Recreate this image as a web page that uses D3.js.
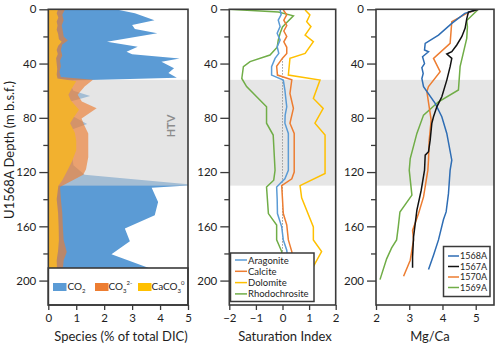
<!DOCTYPE html>
<html><head><meta charset="utf-8">
<script src="https://cdn.jsdelivr.net/npm/d3@7"></script>
<style>body{margin:0;background:#fff}svg{display:block;font-family:Lato,"Open Sans",sans-serif}</style>
</head><body><svg id="c" width="500" height="348"></svg>
<script>
// ---------- Panel 1: DIC species (% of total DIC) ----------
const co2Depth = [0,3,8,11.6,14.5,17.7,24,27.6,31.3,33.2,36.2,38.6,43.5,47,50.5,52.5,56,60,64,68,72,78,84.5,89,100,115,122,129.5,131.5,142,151.8,161.6,171,180.6,191,196];
const co2Vals  = [2.4,3.1,3.8,3.0,3.1,3.9,2.1,3.2,2.8,3.0,4.7,4.05,4.5,4.3,4.6,0.9,0.8,0.9,1.5,0.8,0.7,0.8,1.39,0.8,0.8,0.9,1.3,5.3,3.7,3.93,3.81,2.74,2.92,2.26,3.65,3.9];
const co3Depth = [0,4,8,12,16,20,23,26,30,34,38,42,46,50,52,57,63,68,73,80.5,86,91.5,100,109,118,122,131,140,150,160,170,179,185,196];
const co3Vals  = [0.6,0.5,0.55,0.48,0.52,0.55,0.7,0.5,0.45,0.5,0.42,0.45,0.4,0.45,1.6,1.3,1.05,1.2,1.73,1.19,1.3,1.43,1.43,1.43,1.35,1.25,0.42,0.45,0.5,0.52,0.55,0.66,0.55,0.5];
const cacoDepth = [0,3,6,9,12,15,18,22,24,27,30,33,36,40,44,48,51,53,58,63,67,74,80,84,91,97,104,112,119,126,130,140,150,160,170,178,185,196];
const cacoVals  = [0.35,0.3,0.36,0.3,0.33,0.3,0.35,0.38,0.48,0.35,0.3,0.34,0.28,0.3,0.32,0.3,0.33,1.0,0.85,0.72,0.8,1.1,0.9,0.78,0.95,1.0,1.0,0.85,0.68,0.5,0.36,0.3,0.35,0.37,0.38,0.35,0.3,0.32];

// ---------- Panel 2: Saturation index ----------
const aragDepth = [0.5,4,7.9,12.8,17.7,22.7,27.6,32.5,36.2,42.3,48.5,52.2,59.5,65,71.9,78,84,91.5,105,118.7,125,131,140,150.6,160.4,170,177.6,185,192];
const aragVals  = [-0.09,-0.05,-0.16,-0.09,-0.2,-0.09,-0.2,-0.14,-0.28,-0.41,-0.41,0.03,0.09,0.12,0.16,0.1,0.09,0.22,0.22,0.22,0.09,-0.22,-0.2,-0.19,-0.03,0.03,0.16,0.2,0.22];
const calcDepth = [0.5,4,8,12,16,20,24,28,32.5,36,42,48.5,52,62,73,84,91.5,105,120,125,130,140,150.6,159,170,178.6,185,192];
const calcVals  = [0.03,0.16,0.05,0.16,0.05,0.16,0.05,0.16,0.16,0.0,-0.22,-0.19,0.35,0.28,0.41,0.28,0.44,0.44,0.44,0.35,-0.03,0.0,0.03,0.16,0.22,0.35,0.38,0.4];
const dolDepth  = [0.5,4.2,9.1,12.8,19,23.9,32.5,36.2,48.5,52.2,65.7,73.1,84,92.7,121,130,139,160.4,170,178.6,187.5,192];
const dolVals   = [0.85,1.03,0.91,1.07,0.85,1.16,0.85,0.28,0.22,1.41,1.16,1.53,1.22,1.6,1.6,0.66,0.72,1.16,1.16,1.47,1.22,1.1];
const rhoDepth  = [0,2,4.8,9.8,13,17.7,22.7,28,33.7,38.6,42.3,51,57,71.9,84,92.7,118.7,126,131,150.6,159,170,178.6,192];
const rhoVals   = [-2.0,-0.16,0.41,0.16,0.0,-0.09,-0.16,-0.2,-0.47,-1.22,-1.47,-1.53,-1.35,-0.6,-0.6,-0.35,-0.28,-0.33,-0.6,-0.53,-0.22,-0.22,-0.03,0.0];

// ---------- Panel 3: Mg/Ca ----------
const d1568 = [0,3,10.4,19,25.1,30,31.3,35,40,43,47.3,51,57,69.4,79.2,91.5,111.2,118.6,135.9,149.4,155,170,181.3,191.9];
const v1568 = [5.08,4.67,4.28,3.88,3.48,3.46,3.58,3.4,3.46,3.38,3.42,3.38,3.43,3.78,3.98,4.13,4.28,4.23,4.18,4.11,4.03,3.88,3.73,3.58];
const d1567 = [0,2,7,14,20.2,26.3,31.3,33,36.2,42.3,52.2,64.5,71.9,79.2,84,96.5,105,107.5,118.6,133.4,148,158,167.8,182.5,190.5];
const v1567 = [5.08,4.78,4.73,4.68,4.58,4.43,4.28,4.13,4.28,4.23,4.13,3.98,3.83,3.73,3.68,3.63,3.58,3.48,3.46,3.36,3.23,3.18,3.13,3.10,3.10];
const d1570 = [0,3,9.1,25.1,36.2,46,57,60.7,81.7,96.5,111,118.6,138.3,150.6,163,170,185,196.8];
const v1570 = [5.08,4.73,4.28,4.23,3.73,3.93,3.58,3.53,3.66,3.6,3.58,3.56,3.43,3.28,3.10,3.13,3.03,2.83];
const d1569 = [0,8.2,12.8,21.4,42.3,59.5,68.2,78,91.5,110,118.6,137,149.4,160.4,170,175.9,184,199.3];
const v1569 = [5.08,4.73,4.75,4.73,4.53,4.48,3.88,3.43,3.23,3.03,3.0,3.08,2.72,2.67,2.62,2.47,2.32,2.12];

// ---------- Axis / labels ----------
const depthTicks = [0,20,40,60,80,100,120,140,160,180,200];
const speciesTicks = [0,1,2,3,4,5];
const siTicks = [-2,-1,0,1,2];
const mgTicks = [2,3,4,5];
const htv = [52,130];
const satNames = ["Aragonite","Calcite","Dolomite","Rhodochrosite"];
const siteNames = ["1568A","1567A","1570A","1569A"];

const zip = (ds, vs) => ds.map((d,i)=>({d, v: vs[i]}));
const svg = d3.select("#c");
const yTop = 9.3, yBot = 305;
const y = d3.scaleLinear([0,218],[yTop,yBot]);
const xL = d3.scaleLinear([0,5],[48.3,188]);
const xM = d3.scaleLinear([-2,2],[229.3,335.7]);
const xR = d3.scaleLinear([2,5.55],[376,494]);
const frameCol = "#3a3a3a";
const txtCol = "#1e1e1e";

function clip(id, x0, x1){
  svg.append("clipPath").attr("id",id).append("rect")
    .attr("x",x0).attr("y",yTop).attr("width",x1-x0).attr("height",yBot-yTop);
}
function axes(x, ticks){
  const r = x.range();
  const ya = svg.append("g").attr("transform",`translate(${r[0]},0)`)
    .call(d3.axisLeft(y).tickValues(depthTicks).tickSize(9).tickPadding(3)
      .tickFormat(d => d%40===0 ? d : ""));
  ya.select(".domain").remove();
  ya.selectAll(".tick").filter(d=>d%40!==0).select("line").attr("x2",-5);
  ya.selectAll("line").attr("stroke",frameCol).attr("stroke-width",1.3);
  ya.selectAll("text").attr("font-size",11.5).attr("fill",txtCol).attr("font-family","Lato");
  const xa = svg.append("g").attr("transform",`translate(0,${yBot})`)
    .call(d3.axisBottom(x).tickValues(ticks).tickSize(5).tickPadding(4).tickFormat(d3.format("d")));
  xa.select(".domain").remove();
  xa.selectAll("line").attr("stroke",frameCol).attr("stroke-width",1.3);
  xa.selectAll("text").attr("font-size",11.5).attr("fill",txtCol).attr("font-family","Lato");
  svg.append("rect").attr("x",r[0]).attr("y",yTop).attr("width",r[1]-r[0]).attr("height",yBot-yTop)
    .attr("fill","none").attr("stroke",frameCol).attr("stroke-width",1.6);
}

// ===== Panel 1 =====
clip("cl1", xL(0), xL(5));
const g1 = svg.append("g").attr("clip-path","url(#cl1)");
const area = d3.area().y(d=>y(d.d)).x0(xL(0)).x1(d=>xL(d.v));
g1.append("path").datum(zip(co2Depth,co2Vals)).attr("d",area).attr("fill","#5B9BD5");
g1.append("rect").attr("x",xL(0)).attr("width",xL(5)-xL(0)).attr("y",y(htv[0])).attr("height",y(htv[1])-y(htv[0]))
  .attr("fill","#d4d4d4").attr("fill-opacity",0.6);
g1.append("path").datum(zip(co3Depth,co3Vals)).attr("d",area).attr("fill","#ED7D31").attr("fill-opacity",0.65);
g1.append("path").datum(zip(cacoDepth,cacoVals)).attr("d",area).attr("fill","#F2B12F");
svg.append("text").attr("transform",`translate(${175},${126}) rotate(-90)`).attr("text-anchor","middle")
  .attr("font-size",11).attr("font-weight","bold").attr("fill","#8c8c8c").text("HTV");
// legend
svg.append("rect").attr("x",xL(0)).attr("y",268).attr("width",xL(5)-xL(0)).attr("height",yBot-268)
  .attr("fill","#fff").attr("stroke",frameCol).attr("stroke-width",1.6);
const leg1 = [{c:"#5B9BD5",x:53},{c:"#ED7D31",x:95},{c:"#FFC000",x:138}];
leg1.forEach(l=>svg.append("rect").attr("x",l.x).attr("y",283).attr("width",13.5).attr("height",8).attr("fill",l.c));
function chem(x, parts){
  const t = svg.append("text").attr("x",x).attr("y",290).attr("font-size",10).attr("fill",txtCol);
  parts.forEach(p=>{
    const s = t.append("tspan").text(p.t);
    if(p.sub){ s.attr("font-size",6).attr("dy",3); }
    if(p.sup){ s.attr("font-size",6).attr("dy",p.dy); }
  });
}
chem(67.5,[{t:"CO"},{t:"2",sub:true}]);
chem(108.5,[{t:"CO"},{t:"3",sub:true},{t:"2-",sup:true,dy:-8}]);
chem(151.5,[{t:"CaCO"},{t:"3",sub:true},{t:"0",sup:true,dy:-8}]);
axes(xL, speciesTicks);

// ===== Panel 2 =====
svg.append("rect").attr("x",xM(-2)).attr("width",xM(2)-xM(-2)).attr("y",y(htv[0])).attr("height",y(htv[1])-y(htv[0])).attr("fill","#e6e6e6");
clip("cl2", xM(-2), xM(2));
const g2 = svg.append("g").attr("clip-path","url(#cl2)");
g2.append("line").attr("x1",xM(0)).attr("x2",xM(0)).attr("y1",y(36)).attr("y2",y(200))
  .attr("stroke","#9a9a9a").attr("stroke-width",1).attr("stroke-dasharray","1.5,1.5");
const lineM = d3.line().x(d=>xM(d.v)).y(d=>y(d.d));
const satSeries = [[rhoDepth,rhoVals,"#70AD47"],[dolDepth,dolVals,"#FFC000"],[aragDepth,aragVals,"#5B9BD5"],[calcDepth,calcVals,"#ED7D31"]];
satSeries.forEach(s=>g2.append("path").datum(zip(s[0],s[1])).attr("d",lineM).attr("fill","none").attr("stroke",s[2]).attr("stroke-width",1.5));
const satCols = {"Aragonite":"#5B9BD5","Calcite":"#ED7D31","Dolomite":"#FFC000","Rhodochrosite":"#70AD47"};
svg.append("rect").attr("x",230.5).attr("y",253).attr("width",83.5).attr("height",48.5).attr("fill","#fff").attr("stroke",frameCol).attr("stroke-width",1.5);
satNames.forEach((n,i)=>{
  const yy = 260 + i*11.3;
  svg.append("line").attr("x1",235).attr("x2",247).attr("y1",yy).attr("y2",yy).attr("stroke",satCols[n]).attr("stroke-width",1.5);
  svg.append("text").attr("x",248).attr("y",yy+3.5).attr("font-size",9.5).attr("fill",txtCol).text(n);
});
axes(xM, siTicks);

// ===== Panel 3 =====
svg.append("rect").attr("x",xR(2)).attr("width",xR(5.55)-xR(2)).attr("y",y(htv[0])).attr("height",y(htv[1])-y(htv[0])).attr("fill","#e6e6e6");
clip("cl3", xR(2), xR(5.55));
const g3 = svg.append("g").attr("clip-path","url(#cl3)");
const lineR = d3.line().x(d=>xR(d.v)).y(d=>y(d.d));
const siteCols = {"1568A":"#2E6DB4","1567A":"#111","1570A":"#ED7D31","1569A":"#70AD47"};
const siteSeries = [["1569A",d1569,v1569],["1570A",d1570,v1570],["1568A",d1568,v1568],["1567A",d1567,v1567]];
siteSeries.forEach(s=>g3.append("path").datum(zip(s[1],s[2])).attr("d",lineR).attr("fill","none").attr("stroke",siteCols[s[0]]).attr("stroke-width",1.5));
svg.append("rect").attr("x",443.5).attr("y",246.5).attr("width",46.5).attr("height",50).attr("fill","#fff").attr("stroke",frameCol).attr("stroke-width",1.5);
siteNames.forEach((n,i)=>{
  const yy = 256 + i*10.5;
  svg.append("line").attr("x1",448).attr("x2",459).attr("y1",yy).attr("y2",yy).attr("stroke",siteCols[n]).attr("stroke-width",1.5);
  svg.append("text").attr("x",460).attr("y",yy+3.3).attr("font-size",9).attr("fill",txtCol).text(n);
});
axes(xR, mgTicks);

// ===== Titles =====
svg.append("text").attr("x",121).attr("y",341).attr("text-anchor","middle").attr("font-size",13).attr("fill",txtCol).text("Species (% of total DIC)");
svg.append("text").attr("x",285).attr("y",341).attr("text-anchor","middle").attr("font-size",13).attr("fill",txtCol).text("Saturation Index");
svg.append("text").attr("x",430).attr("y",341).attr("text-anchor","middle").attr("font-size",13).attr("fill",txtCol).text("Mg/Ca");
svg.append("text").attr("transform","translate(14,150) rotate(-90)").attr("text-anchor","middle").attr("font-size",13).attr("fill",txtCol).text("U1568A Depth (m b.s.f.)");
</script></body></html>
